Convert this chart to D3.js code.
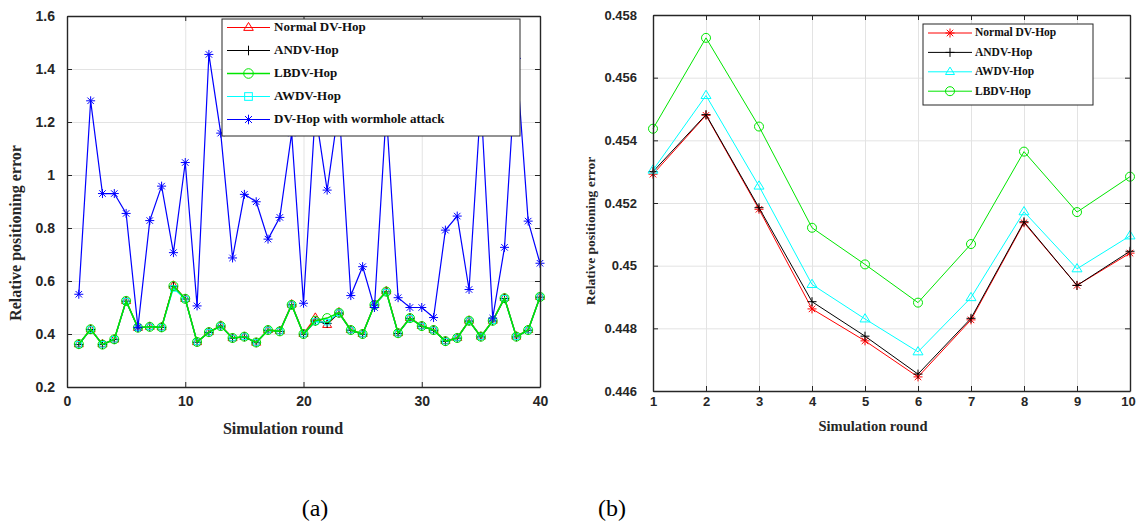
<!DOCTYPE html>
<html>
<head>
<meta charset="utf-8">
<script src="https://cdn.jsdelivr.net/npm/d3@7"></script>
<style>
  html, body { margin: 0; padding: 0; background: #fff; }
  svg { display: block; font-family: "Liberation Serif", "Times New Roman", serif; }
  .tick text { font-weight: bold; fill: #262626; }
</style>
</head>
<body>
<svg id="fig" width="1136" height="527"></svg>
<script>
// ---------- Panel (a): 40 simulation rounds ----------
const roundsA = d3.range(1, 41);
const normalA = [0.362,0.418,0.362,0.380,0.525,0.424,0.428,0.426,0.583,0.533,0.370,0.408,0.432,0.385,0.390,0.368,0.416,0.412,0.512,0.401,0.462,0.435,0.482,0.416,0.401,0.510,0.562,0.404,0.461,0.431,0.416,0.374,0.386,0.451,0.391,0.451,0.537,0.391,0.416,0.541];
const andvA   = [0.360,0.417,0.360,0.379,0.524,0.423,0.427,0.425,0.580,0.532,0.369,0.406,0.430,0.384,0.389,0.367,0.414,0.410,0.510,0.399,0.448,0.440,0.479,0.414,0.399,0.509,0.559,0.402,0.459,0.429,0.414,0.372,0.384,0.449,0.389,0.449,0.534,0.389,0.414,0.539];
const lbdvA   = [0.362,0.418,0.360,0.380,0.525,0.424,0.427,0.425,0.581,0.533,0.370,0.407,0.430,0.385,0.390,0.368,0.415,0.410,0.510,0.400,0.450,0.460,0.480,0.415,0.400,0.510,0.560,0.403,0.460,0.430,0.415,0.373,0.385,0.450,0.390,0.450,0.535,0.390,0.415,0.540];
const awdvA   = [0.361,0.417,0.361,0.380,0.524,0.424,0.427,0.425,0.572,0.532,0.370,0.407,0.430,0.385,0.390,0.368,0.415,0.411,0.510,0.400,0.447,0.445,0.480,0.415,0.400,0.509,0.558,0.403,0.459,0.430,0.415,0.373,0.385,0.450,0.390,0.450,0.535,0.390,0.415,0.540];
const wormA   = [0.550,1.280,0.930,0.930,0.855,0.425,0.828,0.958,0.707,1.047,0.506,1.455,1.158,0.687,0.927,0.899,0.758,0.840,1.158,0.516,1.240,0.943,1.260,0.545,0.654,0.500,1.240,0.537,0.500,0.500,0.462,0.792,0.845,0.568,1.280,0.460,0.727,1.440,0.826,0.667];
const xTicksA = [0, 10, 20, 30, 40];
const yTicksA = [0.2, 0.4, 0.6, 0.8, 1.0, 1.2, 1.4, 1.6];

// ---------- Panel (b): 10 simulation rounds ----------
const roundsB = d3.range(1, 11);
const normalB = [0.45292,0.45480,0.45180,0.44862,0.44760,0.44645,0.44827,0.45137,0.44937,0.45040];
const andvB   = [0.45300,0.45482,0.45185,0.44885,0.44775,0.44654,0.44832,0.45140,0.44937,0.45046];
const awdvB   = [0.45305,0.45543,0.45254,0.44940,0.44830,0.44725,0.44898,0.45172,0.44990,0.45095];
const lbdvB   = [0.45437,0.45727,0.45444,0.45121,0.45004,0.44882,0.45069,0.45364,0.45171,0.45284];
const xTicksB = d3.range(1, 11);
const yTicksB = [0.446, 0.448, 0.450, 0.452, 0.454, 0.456, 0.458];

const svg = d3.select("#fig");
const AXIS = "#262626", GRID = "#e3e3e3";

// Marker glyphs in MATLAB style
function marker(g, type, x, y, s, color) {
  let el;
  if (type === "circle") {
    el = g.append("circle").attr("cx", x).attr("cy", y).attr("r", s);
  } else if (type === "square") {
    el = g.append("rect").attr("x", x - s * 0.8).attr("y", y - s * 0.8).attr("width", s * 1.6).attr("height", s * 1.6);
  } else if (type === "triangle") {
    el = g.append("path").attr("d", `M${x},${y - s * 1.05}L${x + s},${y + s * 0.6}L${x - s},${y + s * 0.6}Z`);
  } else if (type === "plus") {
    el = g.append("path").attr("d", `M${x - s},${y}H${x + s}M${x},${y - s}V${y + s}`);
  } else {
    const d = s * 0.72;
    el = g.append("path").attr("d",
      `M${x - s},${y}H${x + s}M${x},${y - s}V${y + s}M${x - d},${y - d}L${x + d},${y + d}M${x - d},${y + d}L${x + d},${y - d}`);
  }
  el.attr("fill", "none").attr("stroke", color).attr("stroke-width", 1);
}

function panel(cfg) {
  const { left, top, right, bottom } = cfg.box;
  const x = d3.scaleLinear().domain(cfg.xDomain).range([left, right]);
  const y = d3.scaleLinear().domain(cfg.yDomain).range([bottom, top]);
  const g = svg.append("g");

  // grid
  g.append("g").attr("transform", `translate(0,${bottom})`)
    .call(d3.axisBottom(x).tickValues(cfg.xTicks).tickSize(-(bottom - top)).tickFormat(""))
    .call(a => a.select(".domain").remove())
    .call(a => a.selectAll("line").attr("stroke", GRID).attr("stroke-width", 1));
  g.append("g").attr("transform", `translate(${left},0)`)
    .call(d3.axisLeft(y).tickValues(cfg.yTicks).tickSize(-(right - left)).tickFormat(""))
    .call(a => a.select(".domain").remove())
    .call(a => a.selectAll("line").attr("stroke", GRID).attr("stroke-width", 1));

  // series lines and markers
  cfg.series.forEach(s => {
    const pts = cfg.xs.map((xv, i) => [x(xv), y(s.values[i])]);
    g.append("path").attr("d", d3.line()(pts)).attr("fill", "none")
      .attr("stroke", s.color).attr("stroke-width", s.width);
    const mg = g.append("g");
    pts.forEach(p => marker(mg, s.marker, p[0], p[1], s.size, s.color));
  });

  // axes with inward ticks on all four sides
  const styleAxis = a => {
    a.select(".domain").attr("stroke", AXIS).attr("stroke-width", 1.4);
    a.selectAll(".tick line").attr("stroke", AXIS).attr("stroke-width", 1);
    a.selectAll(".tick text").attr("font-size", cfg.tickFont);
  };
  const xAxis = g.append("g").attr("transform", `translate(0,${bottom})`)
    .call(d3.axisBottom(x).tickValues(cfg.xTicks).tickSizeInner(-5).tickSizeOuter(0).tickPadding(cfg.xPad).tickFormat(d3.format("d")))
    .call(styleAxis);
  if (cfg.lastTickShift) {
    xAxis.selectAll(".tick text").filter((d, i, n) => i === n.length - 1).attr("dx", cfg.lastTickShift);
  }
  g.append("g").attr("transform", `translate(0,${top})`)
    .call(d3.axisTop(x).tickValues(cfg.xTicks).tickSizeInner(-5).tickSizeOuter(0).tickFormat(""))
    .call(styleAxis);
  g.append("g").attr("transform", `translate(${left},0)`)
    .call(d3.axisLeft(y).tickValues(cfg.yTicks).tickSizeInner(-5).tickSizeOuter(0).tickPadding(cfg.yPad).tickFormat(cfg.fmt))
    .call(styleAxis);
  g.append("g").attr("transform", `translate(${right},0)`)
    .call(d3.axisRight(y).tickValues(cfg.yTicks).tickSizeInner(-5).tickSizeOuter(0).tickFormat(""))
    .call(styleAxis);

  // axis titles
  g.append("text").attr("x", cfg.xTitle[0]).attr("y", cfg.xTitle[1]).attr("text-anchor", "middle")
    .attr("font-weight", "bold").attr("font-size", cfg.titleFont[0]).attr("fill", "#262626").text("Simulation round");
  g.append("text").attr("transform", `translate(${cfg.yTitle[0]},${cfg.yTitle[1]}) rotate(-90)`)
    .attr("text-anchor", "middle").attr("dy", "0.35em")
    .attr("font-weight", "bold").attr("font-size", cfg.titleFont[1]).attr("fill", "#262626").text("Relative positioning error");

  // legend
  const L = cfg.legend;
  const lg = g.append("g");
  lg.append("rect").attr("x", L.x0).attr("y", L.y0).attr("width", L.x1 - L.x0).attr("height", L.y1 - L.y0)
    .attr("fill", "#fff").attr("stroke", "#262626").attr("stroke-width", 1);
  L.order.forEach((idx, k) => {
    const s = cfg.series[idx];
    const yy = L.firstY + k * L.step;
    lg.append("line").attr("x1", L.lineX[0]).attr("x2", L.lineX[1]).attr("y1", yy).attr("y2", yy)
      .attr("stroke", s.color).attr("stroke-width", s.width);
    marker(lg, s.marker, (L.lineX[0] + L.lineX[1]) / 2, yy, L.markerSize, s.color);
    lg.append("text").attr("x", L.textX).attr("y", yy).attr("dy", "0.3em")
      .attr("font-size", L.font).attr("font-weight", "bold").attr("fill", "#111").text(s.name);
  });
}

const fmtA = v => String(+v.toFixed(1));
const fmtB = v => String(+v.toFixed(3));

panel({
  box: { left: 67, top: 16, right: 540, bottom: 387 },
  xDomain: [0, 40], yDomain: [0.2, 1.6], xTicks: xTicksA, yTicks: yTicksA,
  xs: roundsA, fmt: fmtA, tickFont: 14, xPad: 9, yPad: 12,
  xTitle: [283, 434], yTitle: [15, 233], titleFont: [16, 16],
  series: [
    { name: "Normal DV-Hop", values: normalA, color: "#ff0000", marker: "triangle", size: 4.5, width: 1.2 },
    { name: "ANDV-Hop", values: andvA, color: "#000000", marker: "plus", size: 4.5, width: 1.2 },
    { name: "AWDV-Hop", values: awdvA, color: "#00ffff", marker: "square", size: 3.5, width: 1.2 },
    { name: "LBDV-Hop", values: lbdvA, color: "#00e600", marker: "circle", size: 4.5, width: 1.5 },
    { name: "DV-Hop with wormhole attack", values: wormA, color: "#0000ff", marker: "asterisk", size: 4.5, width: 1.2 }
  ],
  legend: { x0: 222, y0: 19, x1: 520, y1: 136, firstY: 27.5, step: 23, lineX: [227, 270], textX: 274,
            font: 13, markerSize: 4.8, order: [0, 1, 3, 2, 4] }
});

panel({
  box: { left: 653, top: 15, right: 1130, bottom: 391 },
  xDomain: [1, 10], yDomain: [0.446, 0.458], xTicks: xTicksB, yTicks: yTicksB,
  xs: roundsB, fmt: fmtB, tickFont: 13, xPad: 6, yPad: 16, lastTickShift: -2,
  xTitle: [873, 431], yTitle: [590, 231], titleFont: [14.5, 13.5],
  series: [
    { name: "Normal DV-Hop", values: normalB, color: "#ff0000", marker: "asterisk", size: 4.5, width: 1 },
    { name: "ANDV-Hop", values: andvB, color: "#000000", marker: "plus", size: 4.5, width: 1 },
    { name: "AWDV-Hop", values: awdvB, color: "#00ffff", marker: "triangle", size: 5, width: 1 },
    { name: "LBDV-Hop", values: lbdvB, color: "#00e600", marker: "circle", size: 4.5, width: 1 }
  ],
  legend: { x0: 923, y0: 24, x1: 1093, y1: 105, firstY: 33, step: 19.4, lineX: [928, 972], textX: 975,
            font: 11.5, markerSize: 4.5, order: [0, 1, 2, 3] }
});

// sub-figure captions
svg.append("text").attr("x", 315).attr("y", 516).attr("text-anchor", "middle").attr("font-size", 24).text("(a)");
svg.append("text").attr("x", 612).attr("y", 516).attr("text-anchor", "middle").attr("font-size", 24).text("(b)");
</script>
</body>
</html>
